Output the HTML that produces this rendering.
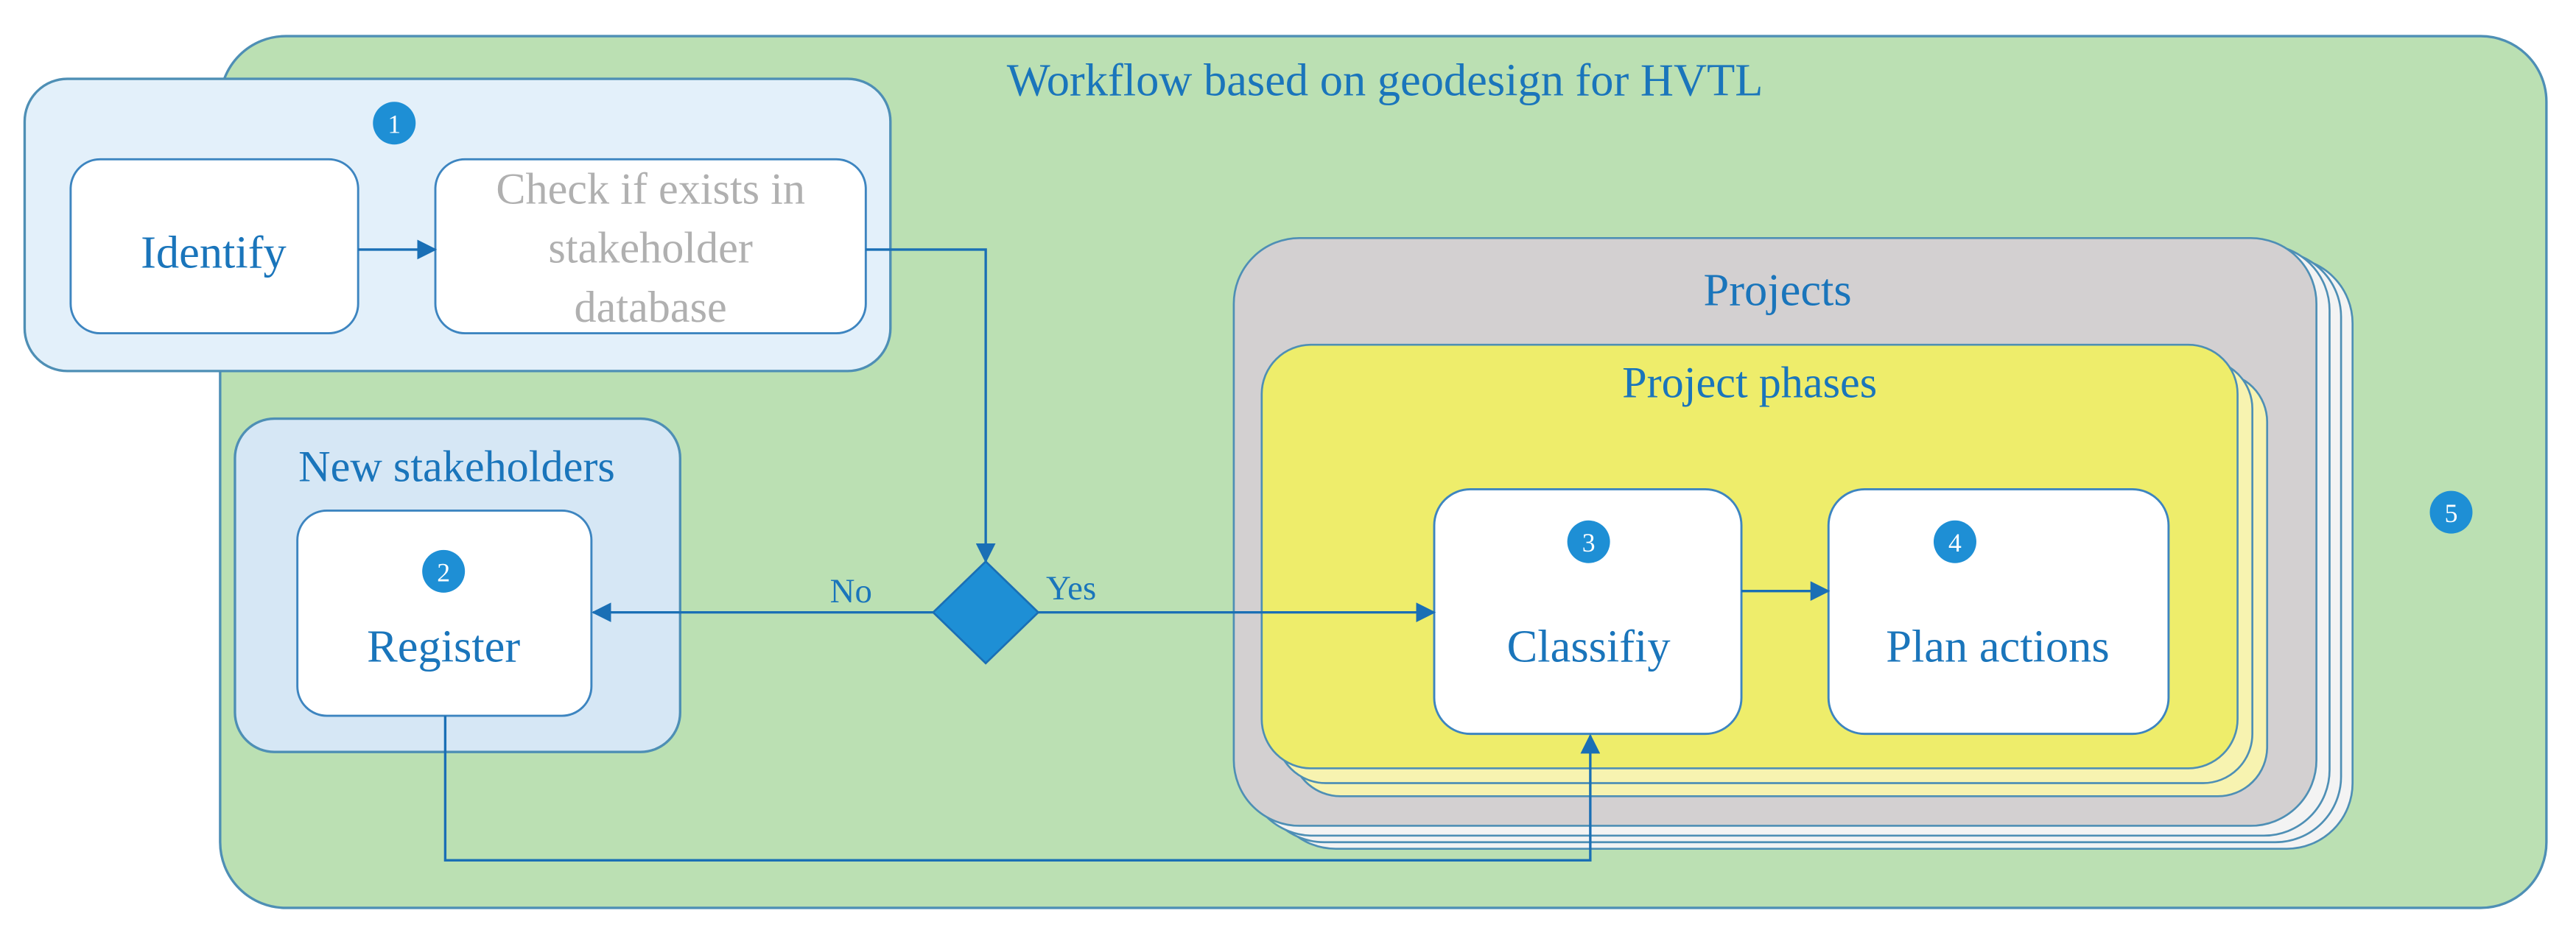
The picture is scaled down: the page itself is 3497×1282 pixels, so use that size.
<!DOCTYPE html>
<html><head><meta charset="utf-8"><style>html,body{margin:0;padding:0;background:#fff}svg{display:block}</style></head>
<body>
<svg width="3497" height="1282" viewBox="0 0 1568 575" preserveAspectRatio="none" xmlns="http://www.w3.org/2000/svg" font-family="Liberation Serif, serif">
<defs>
<marker id="a" markerWidth="12" markerHeight="12" refX="11" refY="6" orient="auto" markerUnits="userSpaceOnUse"><path d="M0,0 L12,6 L0,12z" fill="#1a6fb5"/></marker>
</defs>
<rect x="134" y="22" width="1416" height="531" rx="40" fill="#bbe0b3" stroke="#4e8fb5" stroke-width="1.5"/>
<text x="843" y="58" font-size="28" fill="#1a75bb" text-anchor="middle">Workflow based on geodesign for HVTL</text>
<rect x="15" y="48" width="527" height="178" rx="26" fill="#e3f0fa" stroke="#4e8fb5" stroke-width="1.5"/>
<circle cx="240" cy="75" r="13" fill="#1e8fd5"/><text x="240" y="81" font-size="16" fill="#fff" text-anchor="middle">1</text>
<rect x="43" y="97" width="175" height="106" rx="18" fill="#fff" stroke="#3d85c0" stroke-width="1.3"/>
<text x="130" y="163" font-size="28" fill="#1a75bb" text-anchor="middle">Identify</text>
<rect x="265" y="97" width="262" height="106" rx="18" fill="#fff" stroke="#3d85c0" stroke-width="1.3"/>
<text x="396" y="124" font-size="27" fill="#b0b0b0" text-anchor="middle">Check if exists in</text>
<text x="396" y="160" font-size="27" fill="#b0b0b0" text-anchor="middle">stakeholder</text>
<text x="396" y="196" font-size="27" fill="#b0b0b0" text-anchor="middle">database</text>
<rect x="143" y="255" width="271" height="203" rx="24" fill="#d6e7f5" stroke="#4e8fb5" stroke-width="1.5"/>
<text x="278" y="293" font-size="27" fill="#1a75bb" text-anchor="middle">New stakeholders</text>
<rect x="181" y="311" width="179" height="125" rx="18" fill="#fff" stroke="#3d85c0" stroke-width="1.3"/>
<circle cx="270" cy="348" r="13" fill="#1e8fd5"/><text x="270" y="354" font-size="16" fill="#fff" text-anchor="middle">2</text>
<text x="270" y="403" font-size="28" fill="#1a75bb" text-anchor="middle">Register</text>
<rect x="773" y="157" width="659" height="360" rx="40" fill="#f3f3f3" stroke="#4e8fb5" stroke-width="1.2"/>
<rect x="766" y="153" width="659" height="360" rx="40" fill="#f3f3f3" stroke="#4e8fb5" stroke-width="1.2"/>
<rect x="759" y="149" width="659" height="360" rx="40" fill="#f3f3f3" stroke="#4e8fb5" stroke-width="1.2"/>
<rect x="751" y="145" width="659" height="358" rx="40" fill="#d3d0d1" stroke="#4e8fb5" stroke-width="1.2"/>
<text x="1082" y="186" font-size="28" fill="#1a75bb" text-anchor="middle">Projects</text>
<rect x="786" y="227" width="594" height="258" rx="30" fill="#f7f3b0" stroke="#4e8fb5" stroke-width="1.2"/>
<rect x="777" y="219" width="594" height="258" rx="30" fill="#f7f3b0" stroke="#4e8fb5" stroke-width="1.2"/>
<rect x="768" y="210" width="594" height="258" rx="30" fill="#eeed6b" stroke="#4e8fb5" stroke-width="1.2"/>
<text x="1065" y="242" font-size="27" fill="#1a75bb" text-anchor="middle">Project phases</text>
<rect x="873" y="298" width="187" height="149" rx="22" fill="#fff" stroke="#3d85c0" stroke-width="1.3"/>
<circle cx="967" cy="330" r="13" fill="#1e8fd5"/><text x="967" y="336" font-size="16" fill="#fff" text-anchor="middle">3</text>
<text x="967" y="403" font-size="28" fill="#1a75bb" text-anchor="middle">Classifiy</text>
<rect x="1113" y="298" width="207" height="149" rx="22" fill="#fff" stroke="#3d85c0" stroke-width="1.3"/>
<circle cx="1190" cy="330" r="13" fill="#1e8fd5"/><text x="1190" y="336" font-size="16" fill="#fff" text-anchor="middle">4</text>
<text x="1216" y="403" font-size="28" fill="#1a75bb" text-anchor="middle">Plan actions</text>
<circle cx="1492" cy="312" r="13" fill="#1e8fd5"/><text x="1492" y="318" font-size="16" fill="#fff" text-anchor="middle">5</text>
<!-- connectors on top -->
<line x1="218" y1="152" x2="265" y2="152" stroke="#1a6fb5" stroke-width="1.5" marker-end="url(#a)"/>
<polyline points="527,152 600,152 600,342" fill="none" stroke="#1a6fb5" stroke-width="1.5" marker-end="url(#a)"/>
<line x1="568" y1="373" x2="361" y2="373" stroke="#1a6fb5" stroke-width="1.5" marker-end="url(#a)"/>
<text x="518" y="367" font-size="21" fill="#1a75bb" text-anchor="middle">No</text>
<line x1="632" y1="373" x2="873" y2="373" stroke="#1a6fb5" stroke-width="1.5" marker-end="url(#a)"/>
<text x="652" y="365" font-size="21" fill="#1a75bb" text-anchor="middle">Yes</text>
<line x1="1060" y1="360" x2="1113" y2="360" stroke="#1a6fb5" stroke-width="1.5" marker-end="url(#a)"/>
<polyline points="271,436 271,524 968,524 968,448" fill="none" stroke="#1a6fb5" stroke-width="1.5" marker-end="url(#a)"/>
<polygon points="600,342 632,373 600,404 568,373" fill="#1e8fd5" stroke="#1a6fb5" stroke-width="1.2"/>
</svg>
</body></html>
